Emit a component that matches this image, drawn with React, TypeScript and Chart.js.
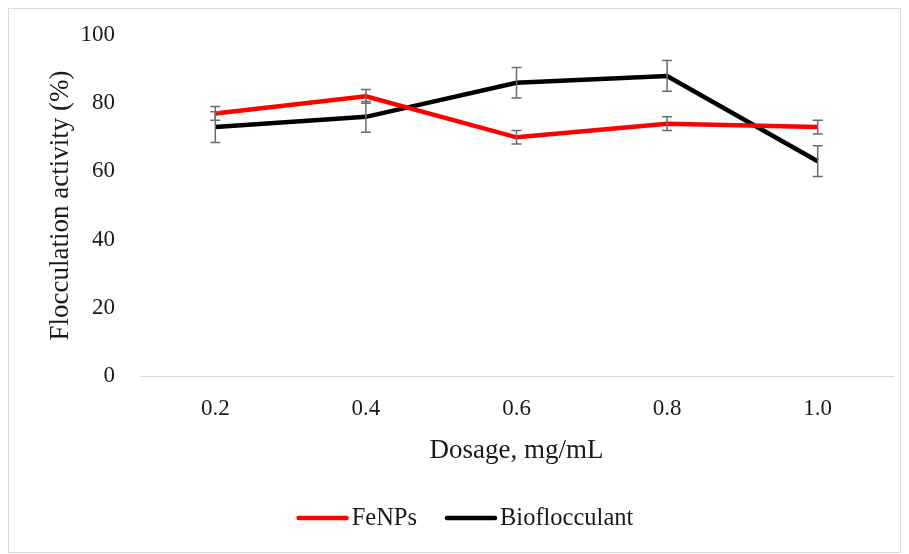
import React, { useEffect, useRef } from "react";
import { Chart, registerables } from "chart.js";

Chart.register(...registerables);

const dosages = ["0.2", "0.4", "0.6", "0.8", "1.0"];
const feNPs = [77, 82, 70, 74, 73];
const feNPsErr = [2, 2, 2, 2, 2];
const bioflocculant = [73, 76, 86, 88, 63];
const bioflocculantErr = [4.5, 4.5, 4.5, 4.5, 4.5];
const yTicks = [0, 20, 40, 60, 80, 100];

const FONT = "'Liberation Serif', 'DejaVu Serif', serif";
const TEXT = "#1a1a1a";

const errorBarPlugin = {
  id: "errorBars",
  afterDatasetsDraw(chart: any) {
    const ctx = chart.ctx;
    const yScale = chart.scales.y;
    const errs = [feNPsErr, bioflocculantErr];
    ctx.save();
    ctx.strokeStyle = "#6b6b6b";
    ctx.lineWidth = 1.5;
    chart.data.datasets.forEach((ds: any, di: number) => {
      const meta = chart.getDatasetMeta(di);
      meta.data.forEach((pt: any, i: number) => {
        const v = ds.data[i];
        const e = errs[di][i];
        const x = pt.x;
        const yTop = yScale.getPixelForValue(v + e);
        const yBot = yScale.getPixelForValue(v - e);
        const hw = 5;
        ctx.beginPath();
        ctx.moveTo(x, yTop);
        ctx.lineTo(x, yBot);
        ctx.moveTo(x - hw, yTop);
        ctx.lineTo(x + hw, yTop);
        ctx.moveTo(x - hw, yBot);
        ctx.lineTo(x + hw, yBot);
        ctx.stroke();
      });
    });
    ctx.restore();
  },
};

const legendPlugin = {
  id: "customLegend",
  afterDraw(chart: any) {
    const ctx = chart.ctx;
    const font = `24.5px ${FONT}`;
    const sw = 52;
    const gap = 3;
    const spacing = 28;
    ctx.save();
    ctx.font = font;
    const items = chart.data.datasets.map((ds: any) => ({
      label: ds.label,
      color: ds.borderColor,
      w: ctx.measureText(ds.label).width,
    }));
    const total =
      items.reduce((s: number, it: any) => s + sw + gap + it.w, 0) +
      spacing * (items.length - 1);
    const cy = 509;
    let x = 456 - total / 2;
    items.forEach((it: any) => {
      ctx.strokeStyle = it.color;
      ctx.lineWidth = 4.5;
      ctx.lineCap = "round";
      ctx.beginPath();
      ctx.moveTo(x + 2, cy);
      ctx.lineTo(x + sw - 2, cy);
      ctx.stroke();
      ctx.fillStyle = TEXT;
      ctx.textBaseline = "middle";
      ctx.textAlign = "left";
      ctx.fillText(it.label, x + sw + gap, cy + 1);
      x += sw + gap + it.w + spacing;
    });
    ctx.restore();
  },
};

export default function App() {
  const ref = useRef<HTMLCanvasElement | null>(null);
  useEffect(() => {
    if (!ref.current) return;
    const chart = new Chart(ref.current, {
      type: "line",
      data: {
        labels: dosages,
        datasets: [
          {
            label: "FeNPs",
            data: feNPs,
            borderColor: "#ff0000",
            backgroundColor: "#ff0000",
            borderWidth: 4.5,
            pointRadius: 0,
            tension: 0,
          },
          {
            label: "Bioflocculant",
            data: bioflocculant,
            borderColor: "#000000",
            backgroundColor: "#000000",
            borderWidth: 4.5,
            pointRadius: 0,
            tension: 0,
          },
        ],
      },
      options: {
        animation: false,
        responsive: false,
        layout: { padding: { left: 0, right: 7, top: 26, bottom: 66 } },
        scales: {
          x: {
            offset: true,
            afterFit: (axis: any) => {
              axis.height = 110;
              axis.paddingLeft = 0;
              axis.paddingRight = 0;
            },
            grid: { display: false, drawTicks: false },
            border: { display: true, color: "#d9d9d9", width: 1 },
            ticks: {
              color: TEXT,
              font: { family: FONT, size: 23 },
              padding: 19,
            },
            title: {
              display: true,
              text: "Dosage, mg/mL",
              color: TEXT,
              font: { family: FONT, size: 27 },
              padding: { top: 0, bottom: 19 },
            },
          },
          y: {
            min: 0,
            max: 100,
            afterFit: (axis: any) => {
              axis.width = 131;
              axis.paddingTop = 0;
              axis.paddingBottom = 0;
            },
            afterBuildTicks: (axis: any) => {
              axis.ticks = yTicks.map((v) => ({ value: v }));
            },
            grid: { display: false, drawTicks: false },
            border: { display: false },
            ticks: {
              color: TEXT,
              font: { family: FONT, size: 23 },
              padding: 25,
            },
            title: {
              display: true,
              text: "Flocculation activity (%)",
              color: TEXT,
              font: { family: FONT, size: 27 },
              padding: { top: 36, bottom: 0 },
            },
          },
        },
        plugins: {
          legend: { display: false },
          tooltip: { enabled: false },
        },
      },
      plugins: [errorBarPlugin, legendPlugin],
    });
    return () => chart.destroy();
  }, []);
  return (
    <div
      style={{
        width: 891,
        height: 543,
        border: "1px solid #d9d9d9",
        boxSizing: "content-box",
      }}
    >
      <canvas ref={ref} width={891} height={543} style={{ display: "block" }} />
    </div>
  );
}
